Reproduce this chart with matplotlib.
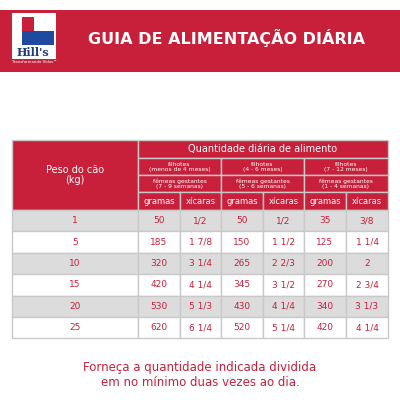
import matplotlib
matplotlib.use("Agg")
import matplotlib.pyplot as plt
from matplotlib.patches import Rectangle

weights = ["1", "5", "10", "15", "20", "25"]
g1 = ["50", "185", "320", "420", "530", "620"]
x1 = ["1/2", "1 7/8", "3 1/4", "4 1/4", "5 1/3", "6 1/4"]
g2 = ["50", "150", "265", "345", "430", "520"]
x2 = ["1/2", "1 1/2", "2 2/3", "3 1/2", "4 1/4", "5 1/4"]
g3 = ["35", "125", "200", "270", "340", "420"]
x3 = ["3/8", "1 1/4", "2", "2 3/4", "3 1/3", "4 1/4"]
groups_a = ["filhotes\n(menos de 4 meses)", "filhotes\n(4 - 6 meses)", "filhotes\n(7 - 12 meses)"]
groups_b = ["fêmeas gestantes\n(7 - 9 semanas)", "fêmeas gestantes\n(5 - 6 semanas)", "fêmeas gestantes\n(1 - 4 semanas)"]
sub = ["gramas", "xícaras"]

RED = "#c8203a"
GRID = "#c9c9c9"
GRAY = "#dcdcdc"

fig = plt.figure(figsize=(4, 4), dpi=100)
ax = fig.add_axes([0, 0, 1, 1])
ax.set_xlim(0, 400); ax.set_ylim(400, 0); ax.axis("off")

# header band
ax.add_patch(Rectangle((0, 10), 400, 62, color=RED, lw=0))
ax.add_patch(Rectangle((12, 13), 44, 46, color="white", lw=0))
ax.add_patch(Rectangle((22, 17), 12, 14, color=RED, lw=0))
ax.add_patch(Rectangle((34, 31), 20, 14, color="#1f4aa0", lw=0))
ax.add_patch(Rectangle((22, 31), 12, 14, color="#1f4aa0", lw=0))
ax.text(33, 52, "Hill's", ha="center", va="center", fontsize=8, fontweight="bold", color="#1f3a7a", family="DejaVu Serif")
ax.text(34, 62, "Transformando Vidas™", ha="center", va="center", fontsize=2.8, color="white")
ax.text(227, 38, "GUIA DE ALIMENTAÇÃO DIÁRIA", ha="center", va="center", fontsize=11.5, fontweight="bold", color="white")

cols = [12, 138, 180, 221, 263, 304, 346, 388]
data_rows = [210 + i * 21.4 for i in range(7)]

def cell(x0, y0, x1_, y1_, fc, txt="", tc="white", fs=5, bold=False):
    ax.add_patch(Rectangle((x0, y0), x1_ - x0, y1_ - y0, facecolor=fc, edgecolor=GRID, lw=1))
    if txt:
        ax.text((x0 + x1_) / 2, (y0 + y1_) / 2, txt, ha="center", va="center", fontsize=fs,
                color=tc, fontweight="bold" if bold else "normal", linespacing=1.0)

cell(cols[0], 140, cols[1], 210, RED, "Peso do cão\n(kg)", fs=7)
cell(cols[1], 140, cols[7], 158, RED, "Quantidade diária de alimento", fs=7)
for i in range(3):
    cell(cols[1 + 2 * i], 158, cols[3 + 2 * i], 175, RED, groups_a[i], fs=4.3)
    cell(cols[1 + 2 * i], 175, cols[3 + 2 * i], 192, RED, groups_b[i], fs=4.3)
    for j in range(2):
        cell(cols[1 + 2 * i + j], 192, cols[2 + 2 * i + j], 210, RED, sub[j], fs=6)

table = list(zip(weights, g1, x1, g2, x2, g3, x3))
for r, vals in enumerate(table):
    fc = GRAY if r % 2 == 0 else "white"
    for c, v in enumerate(vals):
        cell(cols[c], data_rows[r], cols[c + 1], data_rows[r + 1], fc, v, tc=RED, fs=6.5)

ax.text(200, 368, "Forneça a quantidade indicada dividida", ha="center", va="center", fontsize=8.5, color=RED)
ax.text(200, 383, "em no mínimo duas vezes ao dia.", ha="center", va="center", fontsize=8.5, color=RED)

fig.savefig("out.png", dpi=100)
